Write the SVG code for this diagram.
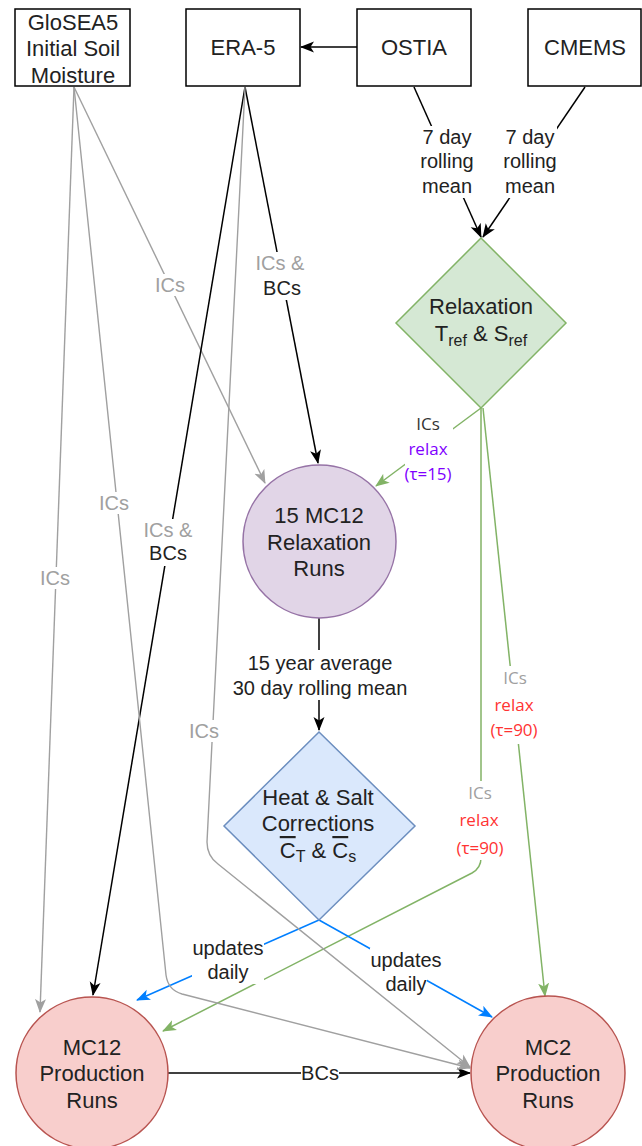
<svg xmlns="http://www.w3.org/2000/svg" width="642" height="1146" viewBox="0 0 642 1146">
<style>
.box{fill:#fff;stroke:#000;stroke-width:1.5}
.nt{font-family:"Liberation Sans",Arial,sans-serif;font-size:22px;fill:#222;text-anchor:middle}
.lb{font-family:"Liberation Sans",Arial,sans-serif;font-size:20px;fill:#222;text-anchor:middle}
.lg{fill:#a0a0a0}
.rl{font-family:"Open Sans","Noto Sans",sans-serif;font-size:17px;text-anchor:middle}
.bg{fill:#fff}
.k{fill:none;stroke:#000;stroke-width:1.5}
.g{fill:none;stroke:#a0a0a0;stroke-width:1.4}
.gr{fill:none;stroke:#82b366;stroke-width:1.5}
.bl{fill:none;stroke:#007fff;stroke-width:1.5}
</style>
<defs>
<marker id="ak" markerUnits="userSpaceOnUse" markerWidth="14" markerHeight="12" viewBox="0 0 14 12" refX="13" refY="6" orient="auto"><path d="M0,0.5 L14,6 L0,11.5 L3.5,6 Z" fill="#000"/></marker>
<marker id="ag" markerUnits="userSpaceOnUse" markerWidth="14" markerHeight="12" viewBox="0 0 14 12" refX="13" refY="6" orient="auto"><path d="M0,0.5 L14,6 L0,11.5 L3.5,6 Z" fill="#a0a0a0"/></marker>
<marker id="agr" markerUnits="userSpaceOnUse" markerWidth="14" markerHeight="12" viewBox="0 0 14 12" refX="13" refY="6" orient="auto"><path d="M0,0.5 L14,6 L0,11.5 L3.5,6 Z" fill="#82b366"/></marker>
<marker id="abl" markerUnits="userSpaceOnUse" markerWidth="14" markerHeight="12" viewBox="0 0 14 12" refX="13" refY="6" orient="auto"><path d="M0,0.5 L14,6 L0,11.5 L3.5,6 Z" fill="#007fff"/></marker>
</defs>

<g id="connectors">
  <!-- OSTIA -> ERA-5 -->
  <path class="k" d="M357,47 L301,47" marker-end="url(#ak)"/>
  <!-- OSTIA / CMEMS -> Relaxation diamond -->
  <path class="k" d="M414,87 L481,237" marker-end="url(#ak)"/>
  <path class="k" d="M585,87 L483,237" marker-end="url(#ak)"/>
  <!-- GloSEA5 fan -->
  <path class="g" d="M74,87 L40,1012" marker-end="url(#ag)"/>
  <path class="g" d="M74,87 L265,483" marker-end="url(#ag)"/>
  <!-- ERA-5 fan -->
  <path class="k" d="M245,87 L318,463" marker-end="url(#ak)"/>
  <path class="k" d="M245,87 L93,995" marker-end="url(#ak)"/>
  <!-- Relaxation -> purple circle -->
  <path class="gr" d="M481,408 L376,486" marker-end="url(#agr)"/>
  <!-- Relaxation -> MC2 -->
  <path class="gr" d="M483,408 L545,996" marker-end="url(#agr)"/>
  <!-- Relaxation -> MC12 -->
  <path class="gr" d="M481,408 L481,858 Q481,868 472,873 L163,1031" marker-end="url(#agr)"/>
  <!-- purple -> heat diamond -->
  <path class="k" d="M319,618 L319,730" marker-end="url(#ak)"/>
  <!-- heat diamond -> production -->
  <path class="bl" d="M319,920 L137,1000" marker-end="url(#abl)"/>
  <path class="bl" d="M319,920 L492,1017" marker-end="url(#abl)"/>
  <!-- BCs MC12 -> MC2 -->
  <path class="k" d="M168,1073 L470,1073" marker-end="url(#ak)"/>
  <!-- gray to MC2 -->
  <path class="g" d="M74,87 L166,975 Q168,990 182,994 L470,1068" marker-end="url(#ag)"/>
  <path class="g" d="M245,87 L207,842 Q207,856 218,864 L470,1067" marker-end="url(#ag)"/>

  <!-- labels -->
  <rect class="bg" x="420" y="126" width="54" height="72"/>
  <text class="lb" x="447" y="144">7 day</text>
  <text class="lb" x="447" y="168">rolling</text>
  <text class="lb" x="447" y="193">mean</text>
  <rect class="bg" x="503" y="126" width="54" height="72"/>
  <text class="lb" x="530" y="144">7 day</text>
  <text class="lb" x="530" y="168">rolling</text>
  <text class="lb" x="530" y="193">mean</text>

  <rect class="bg" x="153" y="274" width="34" height="22"/>
  <text class="lb lg" x="170" y="292">ICs</text>
  <rect class="bg" x="97" y="492" width="34" height="22"/>
  <text class="lb lg" x="114" y="510">ICs</text>
  <rect class="bg" x="38" y="567" width="34" height="22"/>
  <text class="lb lg" x="55" y="585">ICs</text>
  <rect class="bg" x="187" y="720" width="34" height="22"/>
  <text class="lb lg" x="204" y="738">ICs</text>

  <rect class="bg" x="254" y="252" width="52" height="48"/>
  <text class="lb lg" x="280" y="270">ICs &amp;</text>
  <text class="lb" x="282" y="295">BCs</text>
  <rect class="bg" x="143" y="519" width="50" height="47"/>
  <text class="lb lg" x="168" y="537">ICs &amp;</text>
  <text class="lb" x="168" y="560">BCs</text>

  <rect class="bg" x="405" y="413" width="48" height="73"/>
  <text class="rl" x="428" y="430" fill="#333">ICs</text>
  <text class="rl" x="428" y="455" fill="#7f00ff">relax</text>
  <text class="rl" x="428" y="480" fill="#7f00ff">(τ=15)</text>

  <rect class="bg" x="489" y="666" width="52" height="78"/>
  <text class="rl" x="515" y="684" fill="#a0a0a0">ICs</text>
  <text class="rl" x="514" y="711" fill="#ff3333">relax</text>
  <text class="rl" x="514" y="736" fill="#ff3333">(τ=90)</text>

  <rect class="bg" x="454" y="781" width="52" height="79"/>
  <text class="rl" x="480" y="799" fill="#a0a0a0">ICs</text>
  <text class="rl" x="479" y="826" fill="#ff3333">relax</text>
  <text class="rl" x="480" y="854" fill="#ff3333">(τ=90)</text>

  <rect class="bg" x="226" y="650" width="188" height="50"/>
  <text class="lb" x="320" y="670">15 year average</text>
  <text class="lb" x="320" y="695">30 day rolling mean</text>

  <rect class="bg" x="192" y="937" width="72" height="47"/>
  <text class="lb" x="228" y="955">updates</text>
  <text class="lb" x="228" y="979">daily</text>
  <rect class="bg" x="370" y="948" width="72" height="23"/>
  <rect class="bg" x="385" y="971" width="42" height="24"/>
  <text class="lb" x="406" y="967">updates</text>
  <text class="lb" x="406" y="991">daily</text>

  <rect class="bg" x="301" y="1062" width="38" height="22"/>
  <text class="lb" x="320" y="1080">BCs</text>
</g>

<g id="glosea5">
  <rect class="box" x="15" y="9" width="115" height="77"/>
  <text class="nt" x="73" y="30">GloSEA5</text>
  <text class="nt" x="73" y="56">Initial Soil</text>
  <text class="nt" x="73" y="83">Moisture</text>
</g>
<g id="era5">
  <rect class="box" x="186" y="9" width="114" height="77"/>
  <text class="nt" x="243" y="55">ERA-5</text>
</g>
<g id="ostia">
  <rect class="box" x="357" y="9" width="114" height="77"/>
  <text class="nt" x="414" y="55">OSTIA</text>
</g>
<g id="cmems">
  <rect class="box" x="528" y="9" width="113" height="77"/>
  <text class="nt" x="585" y="55">CMEMS</text>
</g>
<g id="relaxation">
  <polygon points="481,238 566,323 481,408 396,323" fill="#d5e8d4" stroke="#82b366" stroke-width="1.5"/>
  <text class="nt" x="481" y="314">Relaxation</text>
  <text class="nt" x="481" y="341">T<tspan font-size="16" dy="5">ref</tspan><tspan dy="-5"> &amp; S</tspan><tspan font-size="16" dy="5">ref</tspan></text>
</g>
<g id="relaxation-runs">
  <circle cx="319.5" cy="541.5" r="76.5" fill="#e1d5e7" stroke="#9673a6" stroke-width="1.5"/>
  <text class="nt" x="319" y="523">15 MC12</text>
  <text class="nt" x="319" y="550">Relaxation</text>
  <text class="nt" x="319" y="576">Runs</text>
</g>
<g id="heat-salt">
  <polygon points="319,732 415,826 319,920 224,826" fill="#dae8fc" stroke="#6c8ebf" stroke-width="1.5"/>
  <text class="nt" x="318" y="805">Heat &amp; Salt</text>
  <text class="nt" x="318" y="831">Corrections</text>
  <text class="nt" x="318" y="858"><tspan text-decoration="overline">C</tspan><tspan font-size="16" dy="4">T</tspan><tspan dy="-4"> &amp; </tspan><tspan text-decoration="overline">C</tspan><tspan font-size="16" dy="4">s</tspan></text>
</g>
<g id="mc12-production">
  <circle cx="92" cy="1073" r="76" fill="#f8cecc" stroke="#b85450" stroke-width="1.5"/>
  <text class="nt" x="92" y="1055">MC12</text>
  <text class="nt" x="92" y="1081">Production</text>
  <text class="nt" x="92" y="1108">Runs</text>
</g>
<g id="mc2-production">
  <circle cx="548" cy="1073" r="77" fill="#f8cecc" stroke="#b85450" stroke-width="1.5"/>
  <text class="nt" x="548" y="1055">MC2</text>
  <text class="nt" x="548" y="1081">Production</text>
  <text class="nt" x="548" y="1108">Runs</text>
</g>
</svg>
